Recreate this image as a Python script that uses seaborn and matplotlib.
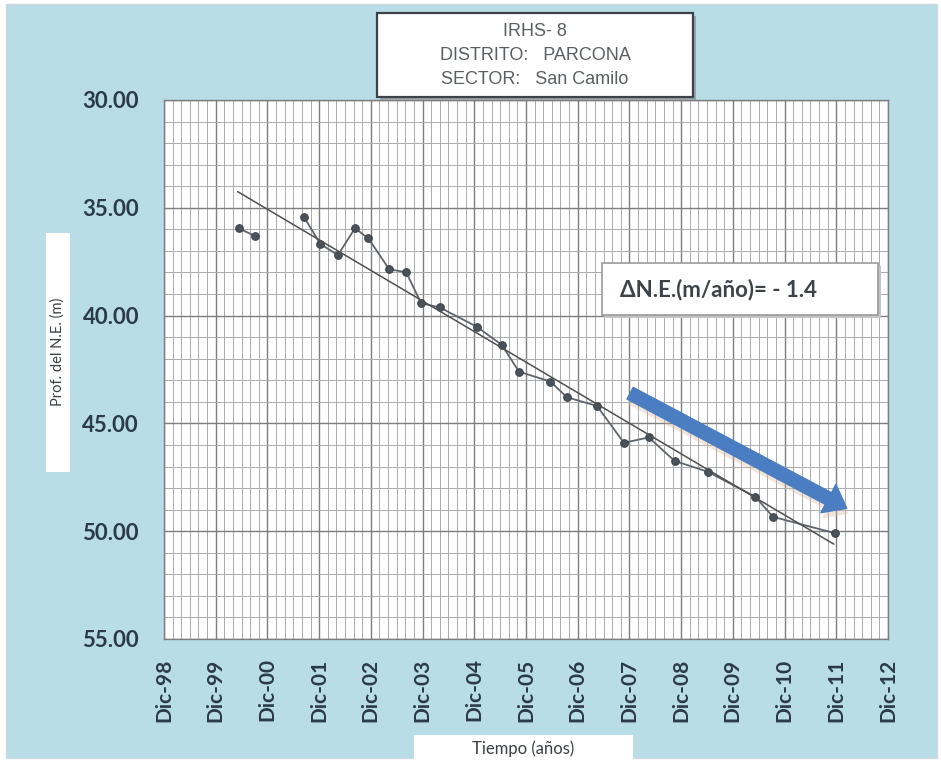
import numpy as np
import pandas as pd
import seaborn as sns
import matplotlib.pyplot as plt
import matplotlib.patheffects as pe
from matplotlib.patches import Rectangle
from matplotlib.ticker import FixedLocator

# lecturas del piezometro (anio decimal, profundidad del N.E. en m)
fecha = [2000.36, 2000.68,
         2001.62, 2001.94, 2002.28, 2002.61, 2002.87, 2003.27, 2003.60,
         2003.89, 2004.25, 2004.96, 2005.45, 2005.78, 2006.39, 2006.71,
         2007.29, 2007.81, 2008.29, 2008.79, 2009.43, 2010.35, 2010.69,
         2011.90]
prof = [35.95, 36.31,
        35.41, 36.68, 37.19, 35.95, 36.42, 37.85, 37.99,
        39.43, 39.62, 40.51, 41.36, 42.60, 43.06, 43.79,
        44.19, 45.90, 45.65, 46.74, 47.24, 48.40, 49.33,
        50.10]
tramo = [1, 1] + [2] * 22

# recta de tendencia
tend_x = [2000.34, 2011.87]
tend_y = [34.25, 50.60]

# flecha azul
flecha_x = [2007.93, 2012.12]
flecha_y = [43.60, 48.94]

tick_pos = [1998 + 11 / 12 + k for k in range(15)]
tick_lab = ["Dic-98", "Dic-99", "Dic-00", "Dic-01", "Dic-02", "Dic-03", "Dic-04",
            "Dic-05", "Dic-06", "Dic-07", "Dic-08", "Dic-09", "Dic-10", "Dic-11",
            "Dic-12"]
y_ticks = [30, 35, 40, 45, 50, 55]

df = pd.DataFrame({"fecha": fecha, "prof": prof, "tramo": tramo})

sns.set_style("white")
plt.rcParams["font.family"] = ["Lato", "DejaVu Sans"]

W, H = 941, 769
BLUE = "#b8dde7"
TXT = "#2c3a48"

fig = plt.figure(figsize=(W / 100, H / 100), dpi=100, facecolor="white")


def px_rect(x0, y0, x1, y1, **kw):
    r = Rectangle((x0 / W, 1 - y1 / H), (x1 - x0) / W, (y1 - y0) / H,
                  transform=fig.transFigure, **kw)
    fig.patches.append(r)
    return r


px_rect(6, 4, 937, 758, facecolor=BLUE, edgecolor="#cfd8dc", lw=1, zorder=-10)

ax = fig.add_axes([164 / W, 1 - 639 / H, (888 - 164) / W, (639 - 100) / H])
ax.set_facecolor("white")

sns.lineplot(data=df, x="fecha", y="prof", units="tramo", estimator=None,
             sort=False, color="#5e646b", lw=1.3, marker="o", markersize=5.5,
             markerfacecolor="#4a525c", markeredgecolor="#3b424a", ax=ax,
             zorder=3)
sns.lineplot(x=tend_x, y=tend_y, color="#4f4f4f", lw=1.1, ax=ax, zorder=3)

ax.annotate("", xy=(flecha_x[1], flecha_y[1]), xytext=(flecha_x[0], flecha_y[0]),
            arrowprops=dict(arrowstyle="simple,head_length=1.5,head_width=2.3,tail_width=0.95",
                            color="#4a7dc2", shrinkA=0, shrinkB=0,
                            path_effects=[pe.SimplePatchShadow(offset=(1, -4),
                                                               shadow_rgbFace="#d8b79a",
                                                               alpha=0.35),
                                          pe.Normal()]),
            zorder=4)

ax.set_xlim(tick_pos[0], tick_pos[-1])
ax.set_ylim(55, 30)
ax.xaxis.set_major_locator(FixedLocator(tick_pos))
ax.xaxis.set_minor_locator(FixedLocator(np.arange(tick_pos[0], tick_pos[-1], 1 / 6)))
ax.set_xticklabels(tick_lab, rotation=90)
ax.yaxis.set_major_locator(FixedLocator(y_ticks))
ax.yaxis.set_minor_locator(FixedLocator(np.arange(30, 55, 1.0)))
ax.set_yticklabels([f"{v:.2f}" for v in y_ticks])

ax.grid(which="minor", color="#ababab", lw=0.7)
ax.grid(which="major", color="#7d7d7d", lw=1.0)
ax.set_axisbelow(True)
ax.tick_params(which="major", direction="out", length=6, width=1, color="#7d7d7d",
               labelcolor=TXT)
ax.tick_params(axis="y", which="major", labelsize=16, pad=12)
ax.tick_params(axis="x", which="major", labelsize=15, pad=8)
ax.tick_params(which="minor", length=0)
for lab in ax.get_xticklabels() + ax.get_yticklabels():
    lab.set_fontweight("bold")
for s in ax.spines.values():
    s.set_color("#7d7d7d")
    s.set_linewidth(1)
ax.set_xlabel("")
ax.set_ylabel("")

# cuadro de titulo
px_rect(380, 16, 696, 100, facecolor="#9aa3a8", edgecolor="none", zorder=5)
px_rect(377, 13, 693, 97, facecolor="white", edgecolor="#3c4246", lw=1.6, zorder=6)
narrow = ["Liberation Sans Narrow", "Liberation Sans", "DejaVu Sans"]
for txt, yy in [("IRHS- 8", 31), ("DISTRITO:   PARCONA", 55), ("SECTOR:   San Camilo", 79)]:
    fig.text(535 / W, 1 - yy / H, txt, ha="center", va="center", fontsize=13,
             color="#5a5f63", family=narrow, zorder=7)

# cuadro de pendiente
px_rect(604, 266, 881, 318, facecolor="#c4c4c4", edgecolor="none", zorder=5)
px_rect(602, 263, 878, 315, facecolor="white", edgecolor="#9a9a9a", lw=1.2, zorder=6)
fig.text(620 / W, 1 - 290 / H, "\u0394N.E.(m/año)= - 1.4", ha="left", va="center",
         fontsize=16, fontweight="bold", color="#3d4247", zorder=7)

# titulos de ejes
px_rect(46, 233, 70, 472, facecolor="white", edgecolor="none", zorder=5)
fig.text(58 / W, 1 - 352 / H, "Prof. del N.E. (m)", rotation=90, ha="center",
         va="center", fontsize=10.5, color="#3a3f44", zorder=7)
px_rect(414, 735, 633, 764, facecolor="white", edgecolor="none", zorder=5)
fig.text(523 / W, 1 - 749 / H, "Tiempo (años)", ha="center", va="center",
         fontsize=12, color="#3a3f44", zorder=7)

fig.savefig("out.png", dpi=100, facecolor=fig.get_facecolor())
